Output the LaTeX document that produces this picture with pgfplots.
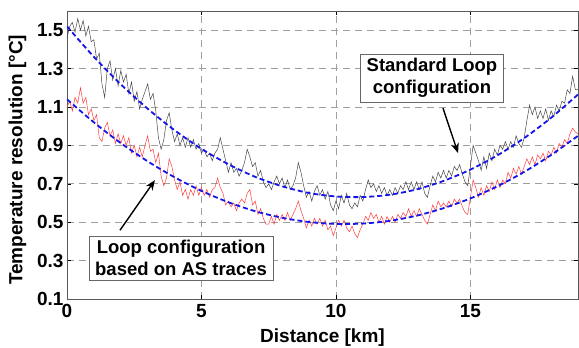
\documentclass[border=0pt]{standalone}
\usepackage{pgfplots}
\pgfplotsset{compat=1.18}
\usepackage{fontspec}
\setmainfont{Liberation Sans}
\usetikzlibrary{arrows.meta}
\definecolor{trgray}{RGB}{70,70,70}
\definecolor{trred}{RGB}{255,60,60}
\definecolor{fitblue}{RGB}{20,20,235}
\begin{document}
\begin{tikzpicture}
\useasboundingbox (-67pt,-49pt) rectangle (512pt,299pt);
\begin{axis}[
  scale only axis, width=511pt, height=288pt,
  at={(0,0)}, anchor=south west,
  xmin=0, xmax=19, ymin=0.1, ymax=1.6,
  xtick={0,5,10,15}, ytick={0.1,0.3,0.5,0.7,0.9,1.1,1.3,1.5},
  yticklabel style={/pgf/number format/fixed,/pgf/number format/precision=1,/pgf/number format/fixed zerofill, xshift=0pt},
  xticklabel style={yshift=-2pt},
  /pgf/number format/assume math mode=true,
  tick align=inside, tick style={black, thin},
  major tick length=4pt,
  grid=major, major grid style={gray!75, line width=0.6pt, dash pattern=on 7pt off 5pt},
  axis line style={gray!70!black, line width=0.6pt},
  font=\fontsize{19}{22}\selectfont\bfseries,
  tick label style={font=\fontsize{19}{22}\selectfont\bfseries},
  xlabel={Distance [km]}, ylabel={Temperature resolution [°C]},
  xlabel style={at={(axis description cs:0.50,-0.135)}, anchor=center},
  ylabel style={at={(axis description cs:-0.097,0.483)}, anchor=center},
  clip=true,
]
\addplot[trgray, line width=0.5pt] coordinates {
(0,1.46)(0.1,1.52)(0.2,1.54)(0.3,1.49)(0.4,1.56)(0.5,1.50)(0.6,1.55)(0.7,1.47)(0.8,1.52)(0.9,1.44)
(1,1.45)(1.1,1.35)(1.2,1.38)(1.3,1.22)(1.4,1.15)(1.5,1.30)(1.6,1.34)(1.7,1.24)(1.8,1.30)(1.9,1.21)
(2,1.29)(2.1,1.23)(2.2,1.27)(2.3,1.17)(2.4,1.23)(2.5,1.13)(2.6,1.18)(2.7,1.09)(2.8,1.14)(2.9,1.18)
(3,1.22)(3.1,1.14)(3.2,1.17)(3.3,1.08)(3.4,0.94)(3.5,0.88)(3.6,0.93)(3.7,1.03)(3.8,1.07)(3.9,0.98)
(4,0.92)(4.1,0.96)(4.2,0.90)(4.3,0.94)(4.4,0.89)(4.5,0.94)(4.6,0.89)(4.7,0.93)(4.8,0.88)(4.9,0.91)
(5,0.86)(5.1,0.88)(5.2,0.84)(5.3,0.86)(5.4,0.82)(5.5,0.86)(5.6,0.88)(5.7,0.94)(5.8,0.88)(5.9,0.82)
(6,0.76)(6.1,0.81)(6.2,0.76)(6.3,0.78)(6.4,0.74)(6.5,0.77)(6.6,0.81)(6.7,0.88)(6.8,0.84)(6.9,0.79)
(7,0.81)(7.1,0.74)(7.2,0.77)(7.3,0.71)(7.4,0.68)(7.5,0.70)(7.6,0.67)(7.7,0.71)(7.8,0.74)(7.9,0.70)
(8,0.73)(8.1,0.68)(8.2,0.72)(8.3,0.67)(8.4,0.69)(8.5,0.73)(8.6,0.81)(8.7,0.76)(8.8,0.69)(8.9,0.63)
(9,0.66)(9.1,0.61)(9.2,0.66)(9.3,0.69)(9.4,0.64)(9.5,0.67)(9.6,0.62)(9.7,0.66)(9.8,0.59)(9.9,0.56)
(10,0.61)(10.1,0.57)(10.2,0.64)(10.3,0.60)(10.4,0.65)(10.5,0.59)(10.6,0.57)(10.7,0.60)(10.8,0.58)(10.9,0.64)
(11,0.61)(11.1,0.67)(11.2,0.72)(11.3,0.68)(11.4,0.70)(11.5,0.66)(11.6,0.69)(11.7,0.65)(11.8,0.68)(11.9,0.64)
(12,0.67)(12.1,0.64)(12.2,0.68)(12.3,0.65)(12.4,0.69)(12.5,0.67)(12.6,0.71)(12.7,0.67)(12.8,0.71)(12.9,0.67)
(13,0.71)(13.1,0.67)(13.2,0.71)(13.3,0.65)(13.4,0.63)(13.5,0.69)(13.6,0.74)(13.7,0.71)(13.8,0.76)(13.9,0.73)
(14,0.77)(14.1,0.73)(14.2,0.77)(14.3,0.74)(14.4,0.79)(14.5,0.77)(14.6,0.80)(14.7,0.75)(14.8,0.71)(14.9,0.69)
(15,0.79)(15.1,0.90)(15.2,0.86)(15.3,0.82)(15.4,0.77)(15.5,0.84)(15.6,0.78)(15.7,0.86)(15.8,0.82)(15.9,0.88)
(16,0.85)(16.1,0.90)(16.2,0.88)(16.3,0.92)(16.4,0.88)(16.5,0.92)(16.6,0.89)(16.7,0.95)(16.8,0.91)(16.9,0.89)
(17,0.94)(17.1,1.03)(17.2,1.11)(17.3,1.06)(17.4,1.10)(17.5,1.04)(17.6,1.08)(17.7,1.04)(17.8,1.09)(17.9,1.03)
(18,1.08)(18.1,1.05)(18.2,1.11)(18.3,1.08)(18.4,1.13)(18.5,1.12)(18.6,1.19)(18.7,1.17)(18.8,1.26)(18.9,1.19)(19,1.19)
};
\addplot[trred, line width=0.5pt] coordinates {
(0,1.10)(0.1,1.13)(0.2,1.08)(0.3,1.15)(0.4,1.12)(0.5,1.20)(0.6,1.12)(0.7,1.15)(0.8,1.06)(0.9,1.09)
(1,1.03)(1.1,1.06)(1.2,0.94)(1.3,0.92)(1.4,0.99)(1.5,1.02)(1.6,0.95)(1.7,0.98)(1.8,0.91)(1.9,0.96)
(2,0.91)(2.1,0.95)(2.2,0.90)(2.3,0.94)(2.4,0.86)(2.5,0.90)(2.6,0.84)(2.7,0.89)(2.8,0.84)(2.9,0.90)
(3,0.95)(3.1,0.87)(3.2,0.88)(3.3,0.81)(3.4,0.86)(3.5,0.74)(3.6,0.69)(3.7,0.73)(3.8,0.83)(3.9,0.79)
(4,0.72)(4.1,0.67)(4.2,0.71)(4.3,0.64)(4.4,0.67)(4.5,0.62)(4.6,0.67)(4.7,0.64)(4.8,0.69)(4.9,0.64)
(5,0.68)(5.1,0.64)(5.2,0.67)(5.3,0.63)(5.4,0.67)(5.5,0.68)(5.6,0.73)(5.7,0.68)(5.8,0.65)(5.9,0.59)
(6,0.61)(6.1,0.58)(6.2,0.60)(6.3,0.56)(6.4,0.60)(6.5,0.62)(6.6,0.60)(6.7,0.65)(6.8,0.67)(6.9,0.59)
(7,0.61)(7.1,0.54)(7.2,0.57)(7.3,0.52)(7.4,0.49)(7.5,0.49)(7.6,0.53)(7.7,0.49)(7.8,0.54)(7.9,0.51)
(8,0.54)(8.1,0.51)(8.2,0.55)(8.3,0.51)(8.4,0.54)(8.5,0.57)(8.6,0.61)(8.7,0.56)(8.8,0.52)(8.9,0.47)
(9,0.51)(9.1,0.48)(9.2,0.52)(9.3,0.49)(9.4,0.52)(9.5,0.48)(9.6,0.51)(9.7,0.46)(9.8,0.48)(9.9,0.43)
(10,0.47)(10.1,0.51)(10.2,0.48)(10.3,0.51)(10.4,0.47)(10.5,0.45)(10.6,0.48)(10.7,0.44)(10.8,0.42)(10.9,0.46)
(11,0.49)(11.1,0.53)(11.2,0.51)(11.3,0.55)(11.4,0.52)(11.5,0.54)(11.6,0.50)(11.7,0.53)(11.8,0.49)(11.9,0.53)
(12,0.50)(12.1,0.53)(12.2,0.50)(12.3,0.54)(12.4,0.52)(12.5,0.55)(12.6,0.53)(12.7,0.57)(12.8,0.53)(12.9,0.56)
(13,0.53)(13.1,0.57)(13.2,0.54)(13.3,0.51)(13.4,0.49)(13.5,0.54)(13.6,0.59)(13.7,0.56)(13.8,0.61)(13.9,0.58)
(14,0.60)(14.1,0.58)(14.2,0.61)(14.3,0.58)(14.4,0.62)(14.5,0.60)(14.6,0.62)(14.7,0.58)(14.8,0.55)(14.9,0.54)
(15,0.63)(15.1,0.72)(15.2,0.68)(15.3,0.63)(15.4,0.68)(15.5,0.64)(15.6,0.69)(15.7,0.66)(15.8,0.71)(15.9,0.67)
(16,0.72)(16.1,0.68)(16.2,0.72)(16.3,0.70)(16.4,0.76)(16.5,0.73)(16.6,0.78)(16.7,0.75)(16.8,0.79)(16.9,0.75)
(17,0.79)(17.1,0.83)(17.2,0.80)(17.3,0.84)(17.4,0.80)(17.5,0.85)(17.6,0.83)(17.7,0.86)(17.8,0.82)(17.9,0.87)
(18,0.85)(18.1,0.89)(18.2,0.86)(18.3,0.91)(18.4,0.89)(18.5,0.93)(18.6,0.91)(18.7,0.96)(18.8,0.99)(18.9,0.97)(19,0.96)
};
\addplot[fitblue, line width=1.8pt, dash pattern=on 5pt off 3pt, smooth] coordinates {
(0,1.520)(1,1.361)(2,1.218)(3,1.091)(4,0.979)(5,0.882)(6,0.802)(7,0.736)(8,0.687)(9,0.652)(10,0.634)(11,0.631)(12,0.643)(13,0.671)(14,0.715)(15,0.774)(16,0.848)(17,0.938)(18,1.044)(19,1.165)
};
\addplot[fitblue, line width=1.8pt, dash pattern=on 5pt off 3pt, smooth] coordinates {
(0,1.140)(1,1.020)(2,0.912)(3,0.817)(4,0.734)(5,0.663)(6,0.604)(7,0.557)(8,0.523)(9,0.501)(10,0.491)(11,0.493)(12,0.507)(13,0.534)(14,0.573)(15,0.624)(16,0.687)(17,0.762)(18,0.850)(19,0.950)
};
\draw[-{Stealth[length=10pt,width=8pt]}, line width=1.4pt, black] (axis cs:13.98,1.094) -- (axis cs:14.54,0.86);
\draw[-{Stealth[length=10pt,width=8pt]}, line width=1.4pt, black] (axis cs:1.97,0.458) -- (axis cs:3.27,0.719);
\node[draw=gray!80!black, fill=white, line width=0.6pt, align=center, inner xsep=6pt, inner ysep=4pt,
  font=\fontsize{18.5}{22}\selectfont\bfseries] at (axis cs:13.57,1.25) {Standard Loop\\configuration};
\node[draw=gray!80!black, fill=white, line width=0.6pt, align=center, inner xsep=6pt, inner ysep=4pt,
  font=\fontsize{18.5}{22}\selectfont\bfseries] at (axis cs:4.24,0.313) {Loop configuration\\based on AS traces};
\end{axis}
\end{tikzpicture}
\end{document}
